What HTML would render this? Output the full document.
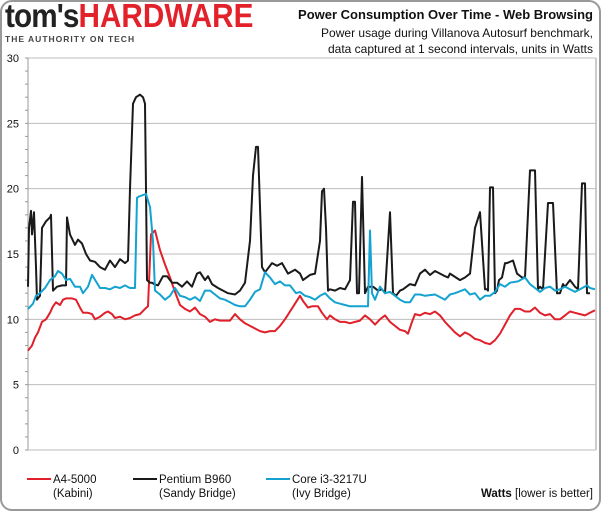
<!DOCTYPE html>
<html><head><meta charset="utf-8"><style>
body{margin:0;background:#fff;font-family:"Liberation Sans",sans-serif}
#wrap{position:relative;width:601px;height:511px;overflow:hidden}
.t{position:absolute;white-space:nowrap}
</style></head><body>
<div id="wrap">
<div style="position:absolute;left:0;top:0;width:597px;height:507px;border:2px solid #999;border-radius:12px"></div>
<div class="t" style="left:5px;top:-3px;font-size:33px;font-weight:bold;letter-spacing:-1px;transform:scaleX(0.9);transform-origin:0 0"><span style="color:#222">tom's</span><span style="color:#e3212b;letter-spacing:0px">HARDWARE</span></div>
<div class="t" style="left:5px;top:34px;font-size:8.5px;font-weight:bold;color:#444;letter-spacing:1px">THE AUTHORITY ON TECH</div>
<div class="t" style="right:8px;top:7px;font-size:13px;font-weight:bold;color:#111">Power Consumption Over Time - Web Browsing</div>
<div class="t" style="right:8px;top:25px;font-size:12px;color:#111;text-align:right;line-height:16px">Power usage during Villanova Autosurf benchmark,<br>data captured at 1 second intervals, units in Watts</div>
<svg id="chart" width="601" height="511" style="position:absolute;left:0;top:0"></svg>
</div>
<script>
const yTicks=[0,5,10,15,20,25,30];
const seriesNames=["A4-5000","Pentium B960","Core i3-3217U"];
const seriesSub=["(Kabini)","(Sandy Bridge)","(Ivy Bridge)"];
const redT=[0,4,7,10,14,18,22,25,28,32,35,38,44,48,52,55,60,64,67,72,77,80,84,87,92,97,102,107,112,117,120,123,127,132,137,142,147,152,157,162,167,172,177,182,187,192,197,202,207,212,217,222,227,232,237,242,247,252,257,262,267,272,275,280,284,290,294,299,302,307,312,317,322,327,332,337,342,347,352,357,362,367,372,377,380,384,387,392,397,402,407,412,417,422,427,432,437,442,447,452,457,462,467,472,477,482,487,492,497,502,507,512,517,522,527,532,537,542,547,552,557,562,567];
const redV=[7.6,8.0,8.6,9.0,9.8,10.0,10.5,11.0,11.3,11.1,11.5,11.6,11.6,11.5,10.9,10.5,10.5,10.4,10.0,10.2,10.5,10.6,10.4,10.1,10.2,10.0,10.1,10.3,10.4,10.8,11.0,16.5,16.8,15.3,14.2,13.2,12.1,11.1,10.8,10.6,10.9,10.4,10.2,9.8,10.0,9.9,9.9,9.9,10.4,10.0,9.7,9.5,9.3,9.1,9.0,9.1,9.1,9.5,10.0,10.6,11.2,11.8,11.4,10.9,11.0,11.0,10.5,10.0,10.3,10.0,9.8,9.8,9.7,9.8,9.9,10.3,10.0,9.6,10.0,10.3,9.8,9.5,9.2,9.1,8.9,9.8,10.4,10.3,10.5,10.4,10.6,10.3,9.8,9.4,9.0,8.7,9.0,8.8,8.5,8.4,8.2,8.1,8.4,8.9,9.6,10.3,10.8,10.8,10.6,10.6,10.9,10.5,10.3,10.4,10.0,10.0,10.3,10.6,10.5,10.4,10.3,10.5,10.7];
const blackT=[0,1,3,4,6,8,9,12,14,18,22,23,25,29,34,38,39,42,47,50,54,58,62,67,72,77,82,87,92,97,100,102,105,108,112,115,117,118,119,122,124,126,130,135,139,144,149,154,159,164,169,172,177,180,184,190,195,200,207,212,217,222,225,228,230,234,237,244,249,254,260,267,272,275,282,287,292,294,296,298,300,302,307,312,317,322,325,327,329,331,334,337,340,345,350,354,357,362,365,368,370,372,375,382,387,392,397,402,407,412,417,420,422,432,437,442,447,452,457,459,460,462,465,467,469,471,474,477,479,485,489,494,497,502,507,510,512,515,520,525,529,532,535,537,542,547,550,554,557,559,562,567];
const blackV=[12.5,17.0,18.3,16.5,18.2,14,11.5,11.8,17.0,17.5,17.8,18.0,12.2,12.5,12.6,12.6,17.8,16.5,15.7,16.1,15.8,15.0,14.5,14.4,14.0,13.8,14.5,14.0,14.6,14.3,14.5,20,26.5,27.0,27.2,27.0,26.5,20,13.0,12.8,12.8,12.7,12.6,13.3,13.3,12.8,12.8,12.5,12.9,12.5,13.5,13.6,13.0,13.3,12.7,12.4,12.2,12.0,11.9,12.2,12.8,16,21,23.2,23.2,14,13.6,14.3,14.1,14.3,13.5,13.8,13.5,13.0,13.4,13.5,16,19.8,20,17,12.2,12.3,12.2,12.4,12.3,13.0,19.0,19.0,12.0,12.0,20.9,12.0,12.5,12.5,12.2,12.3,12.0,18.2,12.0,11.8,12.0,12.2,12.3,12.7,12.6,13.5,13.8,13.4,13.7,13.5,13.3,13.2,13.5,13.0,13.2,13.5,17,18.2,12.3,12.3,12.2,20.1,20.1,12.0,12.2,13.0,13.2,14.3,14.3,14.5,13.5,13.2,13.2,21.4,21.4,12.3,12.5,12.3,18.9,18.9,12.0,12.0,12.7,12.5,13.0,12.5,12.3,20.4,20.4,12.0,12.0];
const blueT=[0,5,8,12,17,22,27,30,34,38,42,47,52,55,60,64,68,72,77,82,87,92,97,102,107,109,111,118,122,125,127,132,137,142,147,152,157,162,167,172,177,182,187,192,197,202,207,212,217,222,227,232,237,242,247,252,257,262,268,272,277,282,287,292,297,302,307,312,317,322,327,332,337,340,342,344,347,352,357,362,367,372,377,382,387,392,397,407,417,422,427,437,442,447,452,457,462,467,472,477,482,490,497,502,507,512,517,522,527,532,537,542,547,552,559,562,567];
const blueV=[10.8,11.2,11.8,12.0,12.4,13.0,13.3,13.7,13.5,13.0,13.1,12.5,12.5,12.0,12.5,13.4,12.9,12.4,12.4,12.3,12.5,12.4,12.6,12.4,12.4,19.3,19.4,19.6,18.6,16,12.2,11.9,11.5,11.8,12.4,11.8,11.7,11.5,11.7,11.4,12.2,12.2,11.9,11.6,11.5,11.3,11.1,11.0,11.0,11.5,12.1,12.3,13.6,13.2,12.7,12.9,12.6,12.6,12.0,12.1,11.8,11.7,11.5,11.8,12.0,11.6,11.3,11.2,11.1,11.0,11.0,11.0,11.0,11.0,16.8,12.0,11.5,12.5,12.0,12.1,11.8,11.5,11.3,11.3,11.9,11.9,11.8,11.9,11.5,11.9,12.0,12.3,11.9,12.0,11.5,11.8,11.8,12.1,12.7,12.5,12.8,12.9,13.2,12.7,12.4,12.1,12.4,12.5,12.2,12.3,12.5,12.3,12.1,12.3,12.6,12.4,12.3];
const NS='http://www.w3.org/2000/svg';
const svg=document.getElementById('chart');
const X0=28,X1=596,Y0=450,Y1=58,TMAX=568,VMAX=30;
function sx(t){return X0+(t/TMAX)*(X1-X0);}
function sy(v){return Y0-(v/VMAX)*(Y0-Y1);}
function mk(tag,attrs){const e=document.createElementNS(NS,tag);for(const k in attrs)e.setAttribute(k,attrs[k]);svg.appendChild(e);return e;}
for(const v of yTicks){
  if(v>0){const g=mk('line',{x1:X0,x2:X1,y1:sy(v),y2:sy(v),stroke:'#bdbdbd','stroke-width':1});
  
  }
  const tx=mk('text',{x:19,y:sy(v)+4,'text-anchor':'end','font-size':11,fill:'#111','font-family':'Liberation Sans, sans-serif'});
  tx.textContent=v;
  
  
}
for(let v=0;v<=VMAX;v++){const m=mk('line',{x1:X0-3,x2:X0,y1:sy(v),y2:sy(v),stroke:'#999','stroke-width':1});

}
const ax=mk('line',{x1:X0,x2:X0,y1:Y1,y2:Y0,stroke:'#999','stroke-width':1});


const rb=mk('line',{x1:X1,x2:X1,y1:Y1,y2:Y0,stroke:'#bbb','stroke-width':1.5});


const bx=mk('line',{x1:X0,x2:X1,y1:Y0,y2:Y0,stroke:'#bbb','stroke-width':1});


const colors=['#e0202a','#1a1a1a','#14a3d0'];
const data=[[redT,redV],[blackT,blackV],[blueT,blueV]];
for(const i of [0,1,2]){
  const [T,V]=data[i];
  const pts=T.map((t,k)=>sx(t).toFixed(1)+','+sy(V[k]).toFixed(1)).join(' ');
  const p=mk('polyline',{points:pts,fill:'none',stroke:colors[i],'stroke-width':2,'stroke-linejoin':'round'});
  
  
}
const lx=[27,133,266];
for(let i=0;i<3;i++){
  const l=mk('line',{x1:lx[i],x2:lx[i]+24,y1:479,y2:479,stroke:colors[i],'stroke-width':2});
  
  
  const a=mk('text',{x:lx[i]+26,y:483,'font-size':11.5,fill:'#111','font-family':'Liberation Sans, sans-serif'});
  a.textContent=seriesNames[i];
  
  
  const b=mk('text',{x:lx[i]+26,y:497,'font-size':11.5,fill:'#111','font-family':'Liberation Sans, sans-serif'});
  b.textContent=seriesSub[i];
  
  
}
const u=mk('text',{x:593,y:497,'text-anchor':'end','font-size':11.5,fill:'#111','font-family':'Liberation Sans, sans-serif'});
u.innerHTML='<tspan font-weight="bold">Watts</tspan> [lower is better]';


</script>
</body></html>
